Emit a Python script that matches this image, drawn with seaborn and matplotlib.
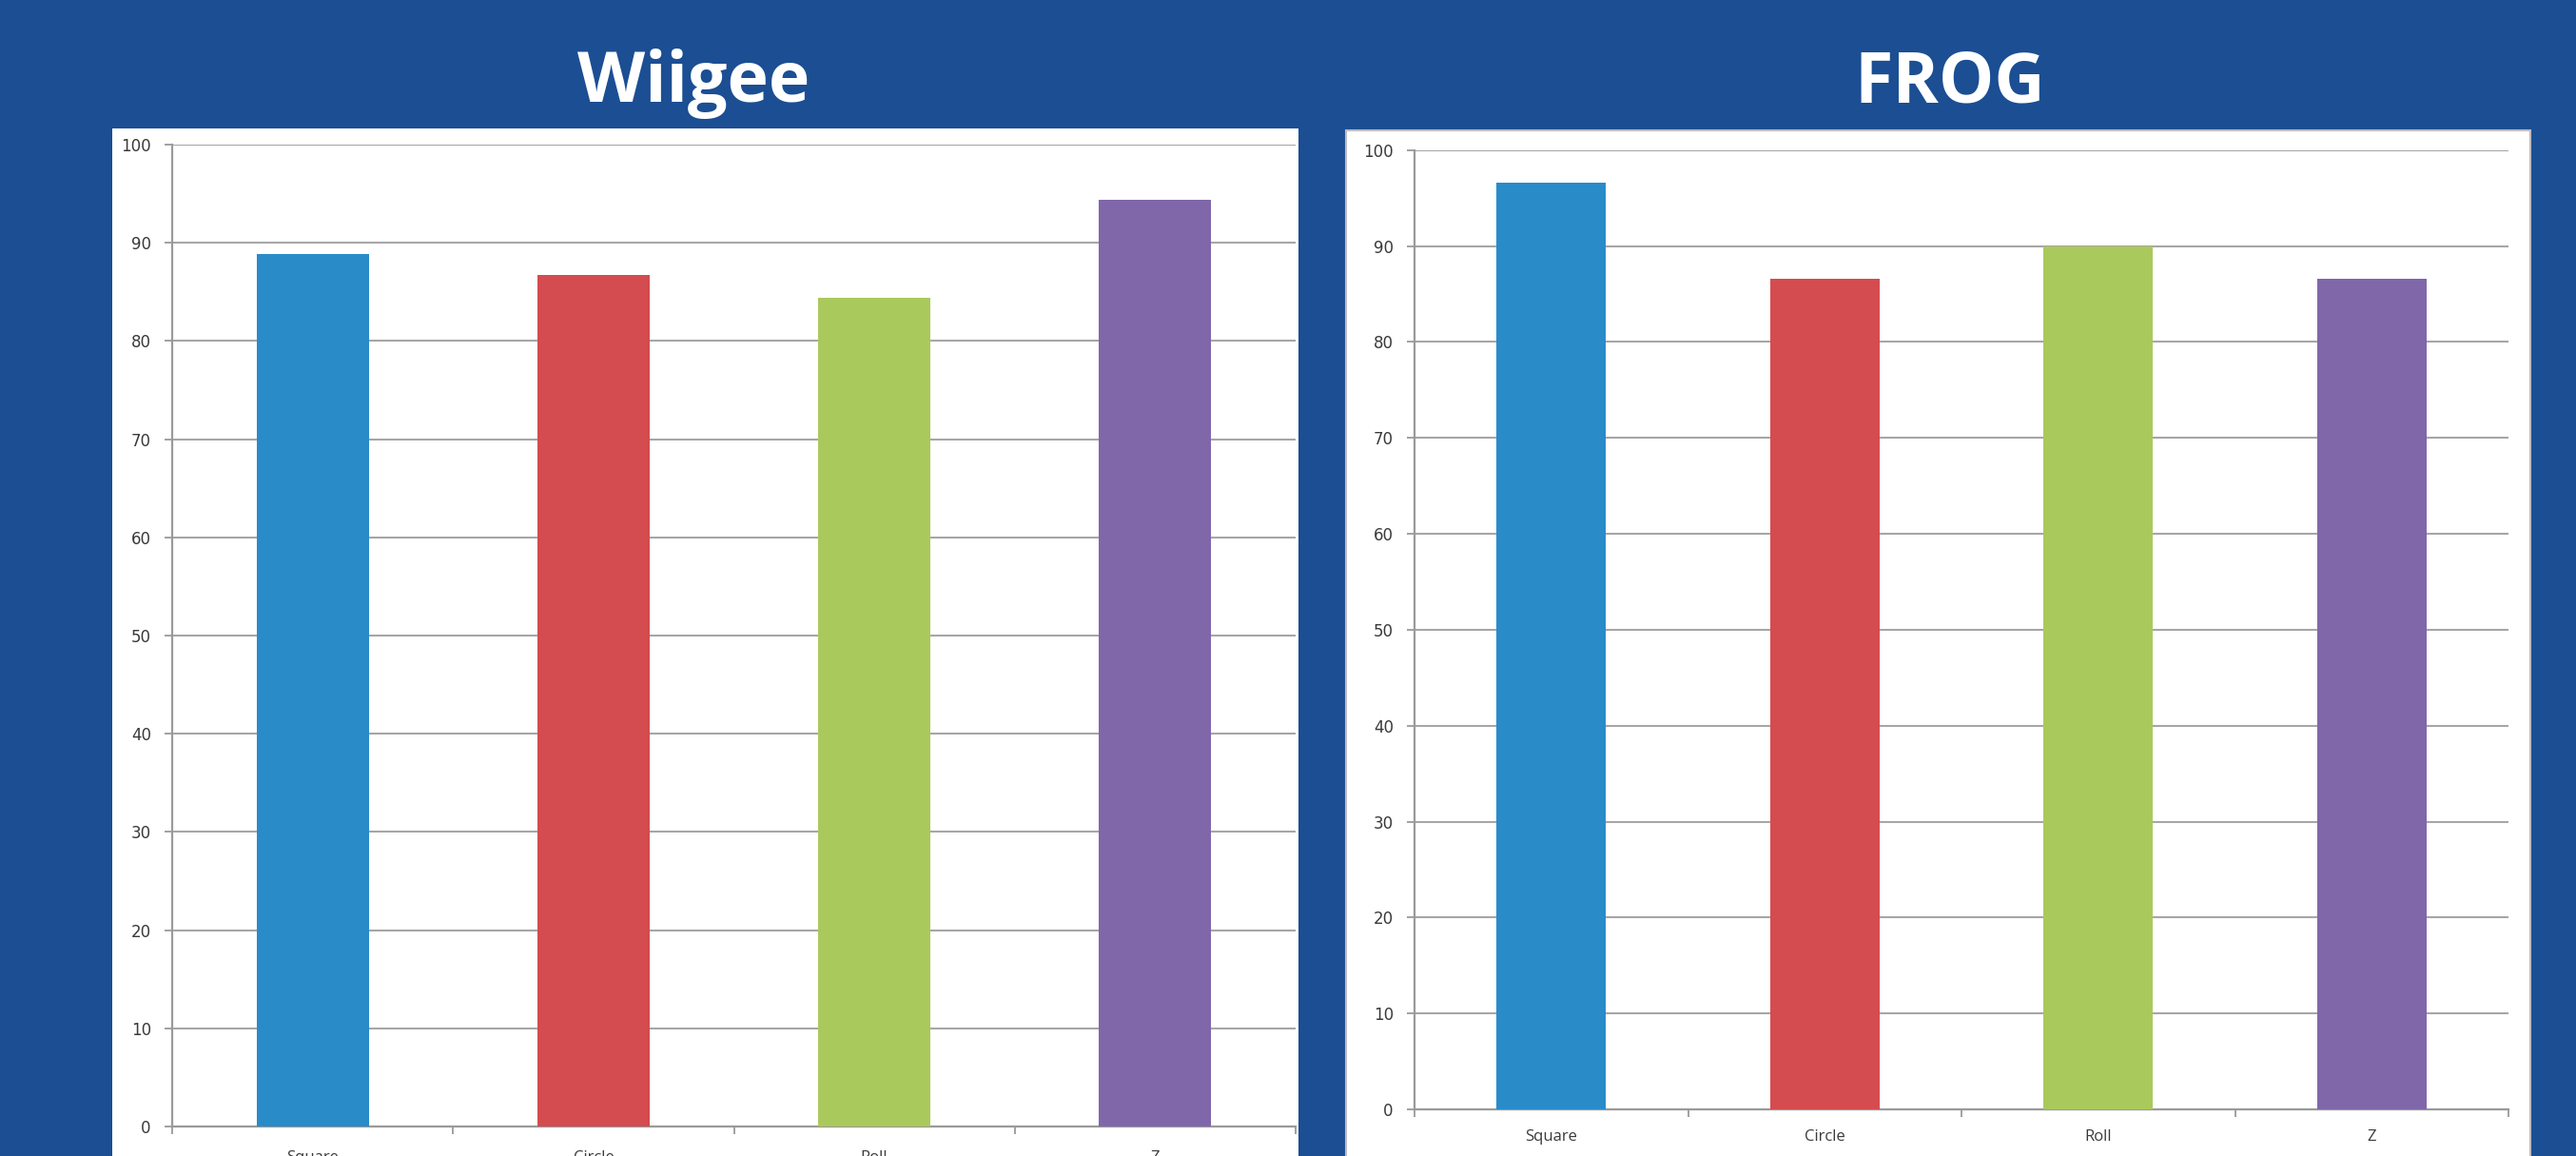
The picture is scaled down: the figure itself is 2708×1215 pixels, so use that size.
import matplotlib
matplotlib.use("Agg")
import matplotlib.pyplot as plt
import seaborn as sns
import pandas as pd
from matplotlib.patches import Rectangle
from matplotlib.ticker import FixedLocator

# ---- data ----
categories = ["Square", "Circle", "Roll", "Z"]
wiigee_values = [88.9, 86.7, 84.4, 94.4]
frog_values = [96.6, 86.6, 90.0, 86.6]
panel_titles = ["Wiigee", "FROG"]
bar_colors = ["#2a8bc9", "#d44c4f", "#aac95c", "#7f67aa"]
y_ticks = list(range(0, 101, 10))

BG = "#1b4e93"
GRID = "#a6a6a6"
TXT = "#3a3a3a"

sns.set_theme(style="white")
plt.rcParams["font.family"] = ["DejaVu Sans"]

W, H = 2708, 1215
fig = plt.figure(figsize=(W / 100, H / 100), dpi=100, facecolor=BG)

def fx(px):
    return px / W

def fy(py):
    return 1 - py / H

# white panel boxes (behind the axes)
fig.patches.append(Rectangle((fx(118), fy(1230)), fx(1365) - fx(118), fy(135) - fy(1230),
                             transform=fig.transFigure, facecolor="white", edgecolor="none", zorder=-5))
fig.patches.append(Rectangle((fx(1415), fy(1230)), fx(2660) - fx(1415), fy(137) - fy(1230),
                             transform=fig.transFigure, facecolor="white", edgecolor="#bdbdbd",
                             linewidth=1.5, zorder=-5))

panels = [
    dict(vals=wiigee_values, title=panel_titles[0], l=181, r=1362, t=152, b=1184, tx=729, xpad=18),
    dict(vals=frog_values, title=panel_titles[1], l=1487, r=2637, t=157.7, b=1166, tx=2050, xpad=15),
]

for p in panels:
    ax = fig.add_axes([fx(p["l"]), fy(p["b"]), fx(p["r"]) - fx(p["l"]), fy(p["t"]) - fy(p["b"])])
    ax.set_zorder(1)
    ax.set_facecolor("none")
    df = pd.DataFrame({"cat": categories, "val": p["vals"]})
    sns.barplot(data=df, x="cat", y="val", hue="cat", palette=bar_colors, width=0.4,
                saturation=1, legend=False, ax=ax, linewidth=0, zorder=3)
    ax.set_xlim(-0.5, len(categories) - 0.5)
    ax.set_ylim(0, 100)
    ax.set_yticks(y_ticks)
    ax.yaxis.grid(True, color=GRID, linewidth=1.5, zorder=0)
    ax.set_axisbelow(True)
    for s in ["top", "right"]:
        ax.spines[s].set_visible(False)
    for s in ["left", "bottom"]:
        ax.spines[s].set_color("#9a9a9a")
        ax.spines[s].set_linewidth(1.6)
    ax.set_xlabel("")
    ax.set_ylabel("")
    ax.tick_params(axis="y", which="major", direction="out", length=6, width=1.3, color="#9a9a9a",
                   labelsize=12, labelcolor=TXT, pad=10, left=True)
    ax.xaxis.set_minor_locator(FixedLocator([i - 0.5 for i in range(len(categories) + 1)]))
    ax.tick_params(axis="x", which="minor", direction="out", length=6, width=1.3, color="#9a9a9a",
                   bottom=True)
    ax.tick_params(axis="x", which="major", length=0, pad=p["xpad"], labelsize=12, labelcolor=TXT)
    for lab in ax.get_xticklabels():
        lab.set_fontfamily(["Open Sans", "DejaVu Sans"])
    fig.text(fx(p["tx"]), fy(107), p["title"], ha="center", va="baseline", color="white",
             fontsize=53, fontweight="bold", family=["Open Sans", "DejaVu Sans"])

fig.savefig("out.png", dpi=100, facecolor=BG)
